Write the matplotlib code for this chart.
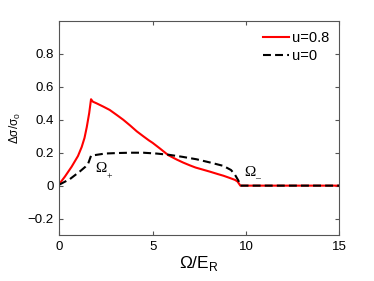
import matplotlib
matplotlib.use("Agg")
import matplotlib.pyplot as plt
import numpy as np

plt.rcParams["font.family"] = ["Liberation Sans", "DejaVu Sans"]

# u=0.8 curve (red, solid)
x_red = [0.0, 0.3, 0.66, 1.0, 1.2, 1.35, 1.47, 1.6, 1.7, 1.8, 2.0, 2.36, 2.7,
         3.07, 3.43, 3.8, 4.15, 4.5, 4.8, 5.0, 5.4, 5.84, 6.3, 6.64, 7.0, 7.3, 7.7, 8.07, 8.5,
         8.8, 9.1, 9.41, 9.55, 9.7, 12.0, 15.0]
y_red = [0.01, 0.055, 0.115, 0.18, 0.235, 0.29, 0.355, 0.44, 0.525, 0.51, 0.5, 0.48, 0.46,
         0.43, 0.4, 0.365, 0.33, 0.3, 0.275, 0.26, 0.225, 0.185, 0.158, 0.14, 0.123, 0.11, 0.097, 0.085, 0.07,
         0.06, 0.048, 0.035, 0.025, 0.0, 0.0, 0.0]

# u=0 curve (black, dashed)
x_blk = [0.0, 0.57, 1.11, 1.4, 1.55, 1.7, 2.45, 3.07, 3.8, 4.5, 5.2, 5.84, 6.6, 7.36, 8.1,
         8.79, 9.2, 9.41, 9.6, 9.7, 12.0, 15.0]
y_blk = [0.006, 0.04, 0.087, 0.115, 0.135, 0.182, 0.195, 0.198, 0.2, 0.2, 0.195, 0.188, 0.175, 0.16, 0.14,
         0.12, 0.095, 0.067, 0.03, 0.0, 0.0, 0.0]

fig = plt.figure(figsize=(3.74, 2.81), dpi=100)
ax = fig.add_axes([0.1586, 0.1637, 0.7484, 0.7613])

ax.plot(x_red, y_red, color="red", lw=1.5, label="u=0.8")
ax.plot(x_blk, y_blk, color="black", lw=1.5, ls=(0, (3.8, 2.0)), label="u=0")

ax.set_xlim(0, 15)
ax.set_ylim(-0.3, 1.0)
ax.set_xticks([0, 5, 10, 15])
ax.set_yticks([-0.2, 0, 0.2, 0.4, 0.6, 0.8])
ax.set_yticklabels(["\u22120.2", "0", "0.2", "0.4", "0.6", "0.8"])

for s in ax.spines.values():
    s.set_color("#555555")
    s.set_linewidth(0.8)
ax.tick_params(direction="in", top=True, right=True, labelsize=9.5, length=3,
               color="#555555", width=0.8, pad=4)

ax.set_xlabel("\u03a9/E$_\\mathregular{R}$", fontsize=12.5, labelpad=1)
ax.set_ylabel("\u0394\u03c3/\u03c3$_\\mathregular{0}$", fontsize=8.5, labelpad=3)

ax.text(1.91, 0.081, "\u03a9", family="Liberation Serif", fontsize=11)
ax.text(2.55, 0.036, "+", family="Liberation Serif", fontsize=7)
ax.text(9.89, 0.061, "\u03a9", family="Liberation Serif", fontsize=11)
ax.text(10.5, 0.025, "\u2013", family="Liberation Serif", fontsize=7)

ax.legend(loc="upper right", frameon=False, fontsize=10.5, handlelength=1.75,
          handletextpad=0.2, borderaxespad=0.3, labelspacing=0.25)

fig.savefig("out.png", dpi=100)
